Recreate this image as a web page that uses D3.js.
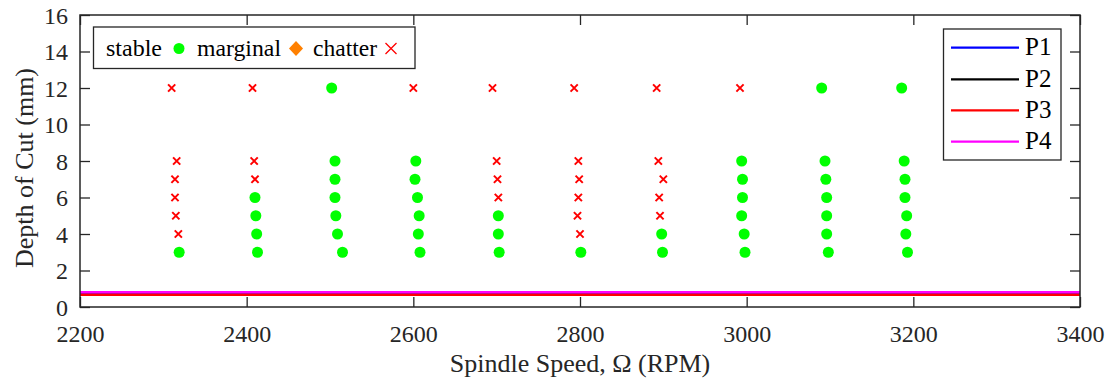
<!DOCTYPE html>
<html>
<head>
<meta charset="utf-8">
<script src="https://cdn.jsdelivr.net/npm/d3@7"></script>
<style>
  html, body { margin: 0; padding: 0; background: #fff; }
  svg { display: block; }
  svg text { font-family: Liberation Serif, Tinos, DejaVu Serif, FreeSerif, Nimbus Roman, Noto Serif, Times, serif; }
</style>
</head>
<body>
<svg id="chart" width="1108" height="383"></svg>
<script>
// Cutting tests: spindle speed (RPM) and axial depth of cut (mm)
const stableSpeed = [2319, 2410, 2411, 2412, 2413,
  2502, 2506, 2506, 2506, 2507, 2509, 2515,
  2603, 2602, 2605, 2607, 2606, 2608,
  2702, 2702, 2703,
  2801,
  2898, 2899,
  2994, 2995, 2995, 2994, 2997, 2998,
  3090, 3094, 3095, 3096, 3096, 3096, 3098,
  3186, 3189, 3190, 3190, 3192, 3191, 3193];
const stableDepth = [3, 6, 5, 4, 3,
  12, 8, 7, 6, 5, 4, 3,
  8, 7, 6, 5, 4, 3,
  5, 4, 3,
  3,
  4, 3,
  8, 7, 6, 5, 4, 3,
  12, 8, 7, 6, 5, 4, 3,
  12, 8, 7, 6, 5, 4, 3];
const marginalSpeed = [];
const marginalDepth = [];
const chatterSpeed = [2310, 2316, 2314, 2314, 2315, 2318,
  2407, 2409, 2410,
  2600,
  2695, 2700, 2701, 2702,
  2793, 2798, 2799, 2798, 2797, 2800,
  2892, 2894, 2900, 2895, 2896,
  2992];
const chatterDepth = [12, 8, 7, 6, 5, 4,
  12, 8, 7,
  12,
  12, 8, 7, 6,
  12, 8, 7, 6, 5, 4,
  12, 8, 7, 6, 5,
  12];

// Stability limit levels (mm) for the four predictions
const limitNames = ["P1", "P2", "P3", "P4"];
const limitValues = [0.68, 0.68, 0.67, 0.81];
const limitColors = ["#0000ff", "#000000", "#ff0000", "#ff00ff"];

const xTicks = [2200, 2400, 2600, 2800, 3000, 3200, 3400];
const yTicks = [0, 2, 4, 6, 8, 10, 12, 14, 16];

const svg = d3.select("#chart");
const plotL = 80, plotR = 1080, plotT = 15, plotB = 307;
const axisColor = "#262626";

const x = d3.scaleLinear().domain([2200, 3400]).range([plotL, plotR]);
const y = d3.scaleLinear().domain([0, 16]).range([plotB, plotT]);

// limit lines
svg.append("g").selectAll("line").data(limitValues).join("line")
  .attr("x1", x(2200)).attr("x2", x(3400))
  .attr("y1", d => y(d)).attr("y2", d => y(d))
  .attr("stroke", (d, i) => limitColors[i])
  .attr("stroke-width", 2.6);

// axes
const tickLen = 10;
const fontTick = 24;
const gx = svg.append("g").attr("transform", `translate(0,${plotB})`)
  .call(d3.axisBottom(x).tickValues(xTicks).tickSize(-tickLen).tickPadding(18).tickFormat(d3.format("d")));
const gxTop = svg.append("g").attr("transform", `translate(0,${plotT})`)
  .call(d3.axisTop(x).tickValues(xTicks).tickSize(-tickLen).tickFormat(""));
const gy = svg.append("g").attr("transform", `translate(${plotL},0)`)
  .call(d3.axisLeft(y).tickValues(yTicks).tickSize(-tickLen).tickPadding(12));
const gyRight = svg.append("g").attr("transform", `translate(${plotR},0)`)
  .call(d3.axisRight(y).tickValues(yTicks).tickSize(-tickLen).tickFormat(""));

[gx, gxTop, gy, gyRight].forEach(g => {
  g.attr("font-family", null).attr("font-size", fontTick);
  g.select(".domain").remove();
  g.selectAll(".tick line").attr("stroke", axisColor).attr("stroke-width", 1.3);
  g.selectAll(".tick text").attr("fill", "#262626");
});
gy.selectAll(".tick text").attr("dy", "0.34em");

svg.append("rect")
  .attr("x", plotL).attr("y", plotT).attr("width", plotR - plotL).attr("height", plotB - plotT)
  .attr("fill", "none").attr("stroke", axisColor).attr("stroke-width", 1.5);

// markers
svg.append("g").selectAll("circle").data(stableSpeed).join("circle")
  .attr("cx", d => x(d)).attr("cy", (d, i) => y(stableDepth[i]))
  .attr("r", 5.5).attr("fill", "#00ff00");

svg.append("g").selectAll("path.m").data(marginalSpeed).join("path")
  .attr("d", d3.symbol(d3.symbolDiamond2, 120)())
  .attr("transform", (d, i) => `translate(${x(d)},${y(marginalDepth[i])})`)
  .attr("fill", "#ff8000");

const cross = (s) => `M${-s},${-s}L${s},${s}M${-s},${s}L${s},${-s}`;
svg.append("g").selectAll("path").data(chatterSpeed).join("path")
  .attr("d", cross(3.6))
  .attr("transform", (d, i) => `translate(${x(d)},${y(chatterDepth[i])})`)
  .attr("stroke", "#ff0000").attr("stroke-width", 2).attr("fill", "none");

// axis titles
svg.append("text")
  .attr("x", (plotL + plotR) / 2).attr("y", 372)
  .attr("text-anchor", "middle").attr("fill", "#262626")
  .attr("font-size", 26)
  .text("Spindle Speed, Ω (RPM)");
svg.append("text")
  .attr("transform", `translate(24,${(plotT + plotB) / 2 + 7}) rotate(-90)`)
  .attr("text-anchor", "middle").attr("fill", "#262626")
  .attr("dy", "0.35em")
  .attr("font-size", 26)
  .text("Depth of Cut (mm)");

// marker legend
const leg1 = svg.append("g");
leg1.append("rect").attr("x", 93.5).attr("y", 27).attr("width", 321.5).attr("height", 41.5)
  .attr("fill", "#fff").attr("stroke", axisColor).attr("stroke-width", 1.3);
const leg1Items = [
  { label: "stable", tx: 106, w: 56, mx: 179, kind: "circle" },
  { label: "marginal", tx: 197, w: 84, mx: 296, kind: "diamond" },
  { label: "chatter", tx: 313, w: 64, mx: 391, kind: "cross" }
];
leg1Items.forEach(it => {
  leg1.append("text").attr("x", it.tx).attr("y", 56)
    .attr("textLength", it.w).attr("lengthAdjust", "spacingAndGlyphs")
    .attr("font-size", 23).attr("fill", "#000").text(it.label);
  if (it.kind === "circle") {
    leg1.append("circle").attr("cx", it.mx).attr("cy", 48.5).attr("r", 5.5).attr("fill", "#00ff00");
  } else if (it.kind === "diamond") {
    leg1.append("path").attr("d", "M0,-7.5L7,0L0,7.5L-7,0Z")
      .attr("transform", `translate(${it.mx},48.5)`).attr("fill", "#ff8000");
  } else {
    leg1.append("path").attr("d", cross(5.5))
      .attr("transform", `translate(${it.mx},48.5)`)
      .attr("stroke", "#ff0000").attr("stroke-width", 1.3).attr("fill", "none");
  }
});

// line legend
const leg2 = svg.append("g");
leg2.append("rect").attr("x", 943.5).attr("y", 29).attr("width", 117.5).attr("height", 131)
  .attr("fill", "#fff").attr("stroke", axisColor).attr("stroke-width", 1.3);
const legRowY = [47.7, 79.3, 110.3, 141.7];
limitNames.forEach((name, i) => {
  leg2.append("line").attr("x1", 951).attr("x2", 1019)
    .attr("y1", legRowY[i]).attr("y2", legRowY[i])
    .attr("stroke", limitColors[i]).attr("stroke-width", 2.2);
  leg2.append("text").attr("x", 1025).attr("y", legRowY[i] + 7.5)
    .attr("font-size", 25).attr("fill", "#000").text(name);
});
</script>
</body>
</html>
